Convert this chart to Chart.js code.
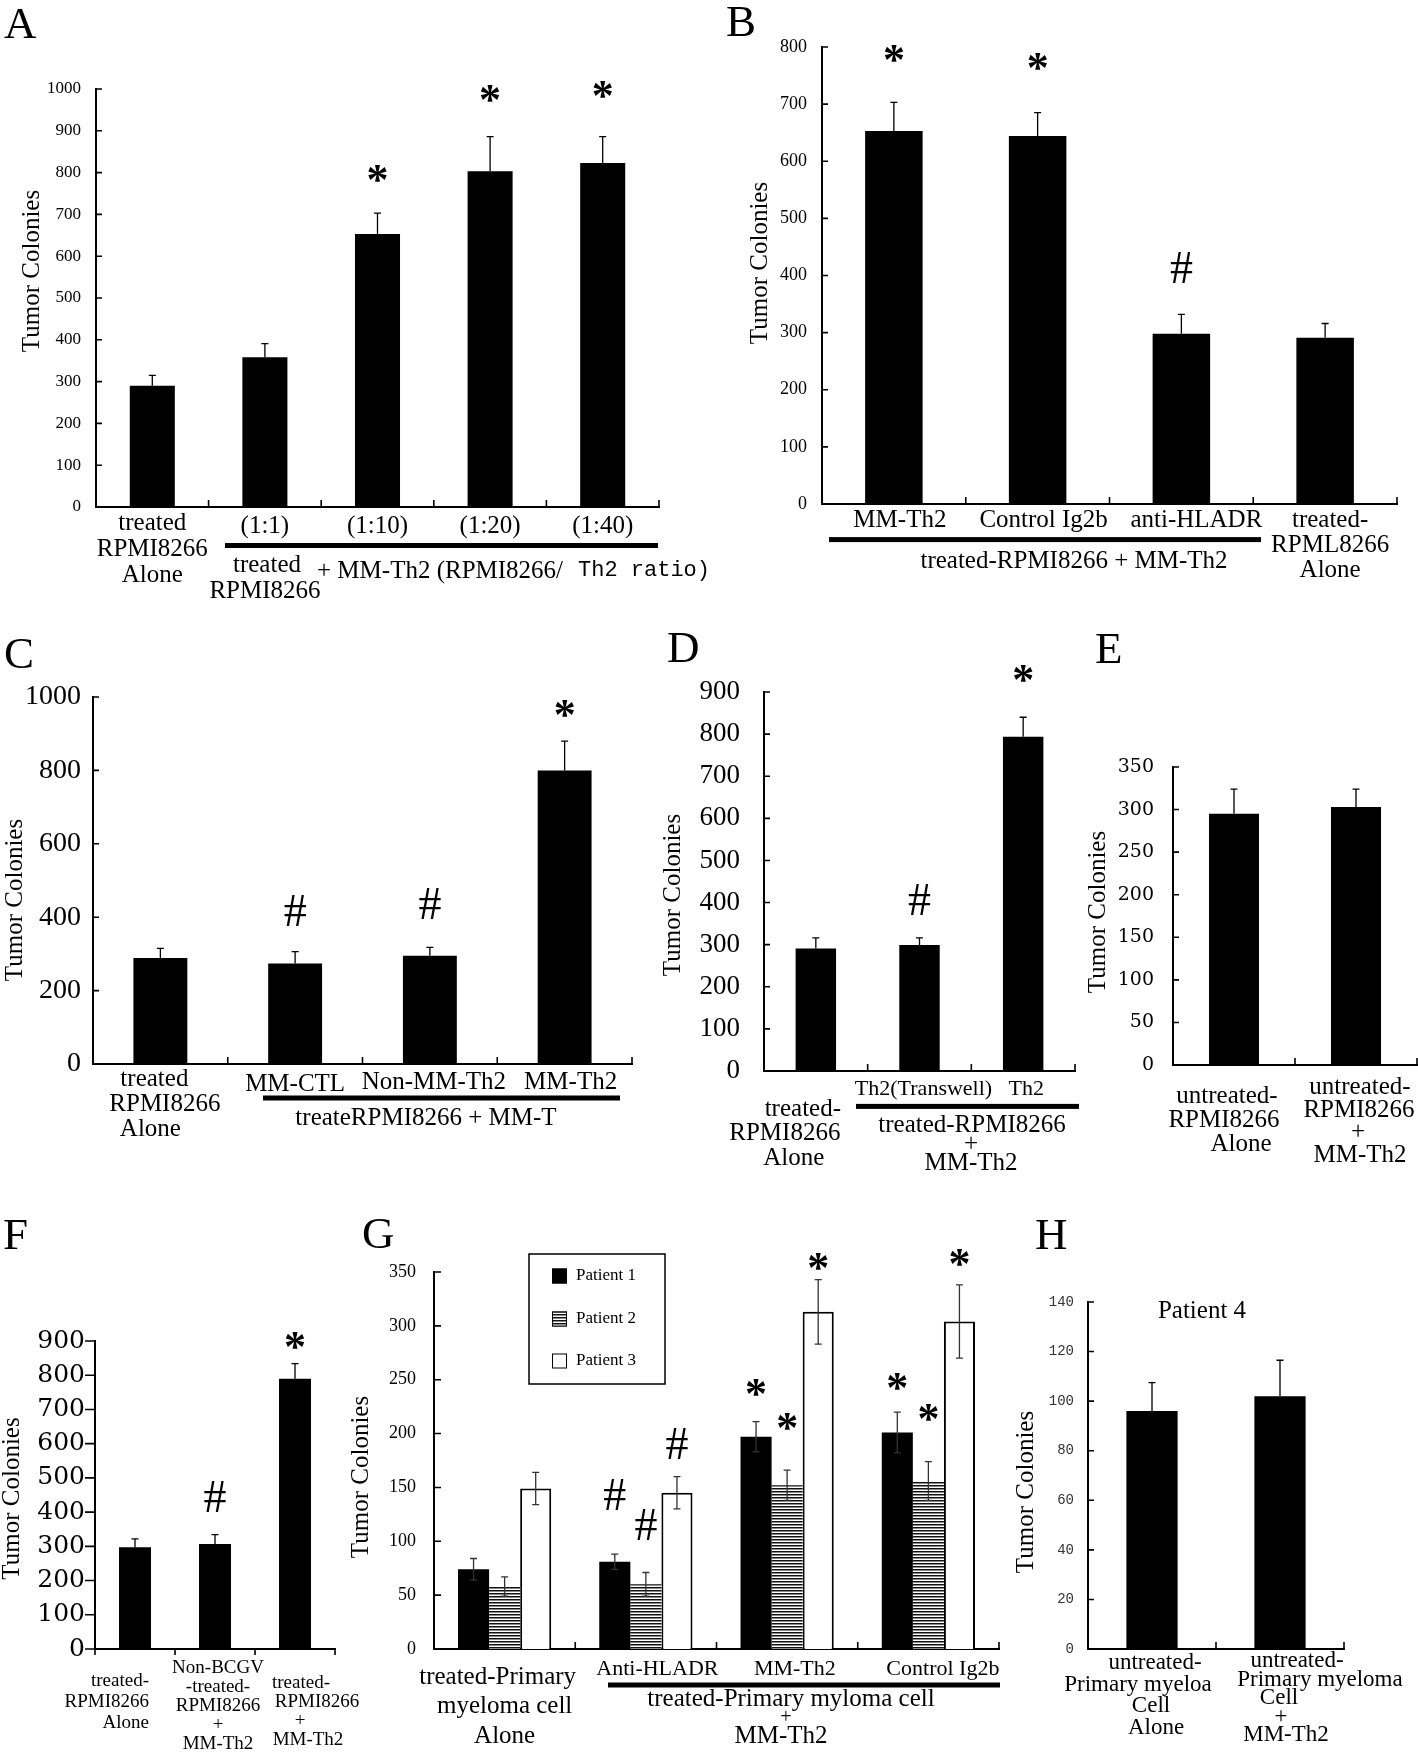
<!DOCTYPE html>
<html>
<head>
<meta charset="utf-8">
<script src="https://cdn.jsdelivr.net/npm/chart.js@4.4.1/dist/chart.umd.min.js"></script>
<style>
  body { margin: 0; background: #fff; }
  #page { position: relative; width: 1418px; height: 1753px; background: #fff; overflow: hidden; }
  #page canvas { position: absolute; }
</style>
</head>
<body>
<div id="page"></div>
<script>
// ---- data ----

// A
const aLabels = [['treated', 'RPMI8266', 'Alone'], ['(1:1)'], ['(1:10)'], ['(1:20)'], ['(1:40)']];
const aValues = [290, 358, 653, 803, 823];
const aErrors = [25, 33, 50, 83, 63];
const aMarks = ['', '', '*', '*', '*'];
const aMarkAt = [0, 0, 797, 990, 1000];

// B
const bLabels = [['MM-Th2'], ['Control Ig2b'], ['anti-HLADR'], ['treated-', 'RPML8266', 'Alone']];
const bValues = [653, 644, 298, 291];
const bErrors = [50, 41, 34, 25];
const bMarks = ['*', '*', '#', ''];
const bMarkAt = [789, 775, 414, 0];

// C
const cLabels = [['treated', 'RPMI8266', 'Alone'], ['MM-CTL'], ['Non-MM-Th2'], ['MM-Th2']];
const cValues = [289, 274, 295, 800];
const cErrors = [26, 32, 23, 80];
const cMarks = ['', '#', '#', '*'];
const cMarkAt = [0, 418, 438, 968];

// D
const dLabels = [['treated-', 'RPMI8266', 'Alone'], ['Th2(Transwell)'], ['Th2']];
const dValues = [291, 299, 794];
const dErrors = [25, 17, 46];
const dMarks = ['', '#', '*'];
const dMarkAt = [0, 407, 945];

// E
const eLabels = [['untreated-', 'RPMI8266', 'Alone'], ['untreated-', 'RPMI8266', '+', 'MM-Th2']];
const eValues = [295, 303];
const eErrors = [29, 21];

// F
const fLabels = [['treated-', 'RPMI8266', 'Alone'],
  ['Non-BCGV', '-treated-', 'RPMI8266', '+', 'MM-Th2'],
  ['treated-', 'RPMI8266', '+', 'MM-Th2']];
const fValues = [297, 307, 790];
const fErrors = [25, 27, 44];
const fMarks = ['', '#', '*'];
const fMarkAt = [0, 446, 901];

// G
const gLabels = [['treated-Primary', 'myeloma cell', 'Alone'], ['Anti-HLADR'], ['MM-Th2'], ['Control Ig2b']];
const gSeries = ['Patient 1', 'Patient 2', 'Patient 3'];
const gPatient1 = [74, 81, 197, 201];
const gPatient2 = [58, 60, 152, 156];
const gPatient3 = [149, 145, 313, 304];
const gErr1 = [10, 7, 14, 19];
const gErr2 = [9, 11, 14, 18];
const gErr3 = [15, 15, 30, 34];
const gMarks1 = ['', '#', '*', '*'];
const gMarks2 = ['', '#', '*', '*'];
const gMarks3 = ['', '#', '*', '*'];
const gMarkAt1 = [0, 143, 243, 248];
const gMarkAt2 = [0, 116, 211, 220];
const gMarkAt3 = [0, 191, 360, 363];

// H
const hLabels = [['untreated-', 'Primary myeloa', 'Cell', 'Alone'],
  ['untreated-', 'Primary myeloma', 'Cell', '+', 'MM-Th2']];
const hValues = [96, 102];
const hErrors = [11.5, 14.5];

const yTitle = 'Tumor Colonies';

// ---- look ----
const SERIF = '"Liberation Serif", "Times New Roman", serif';
const DSERIF = '"DejaVu Serif", serif';
const MONO = '"Liberation Mono", monospace';

function hatch() {
  const c = document.createElement('canvas');
  c.width = 4; c.height = 3;
  const x = c.getContext('2d');
  x.fillStyle = '#fff'; x.fillRect(0, 0, 4, 3);
  x.fillStyle = '#111'; x.fillRect(0, 0, 4, 1);
  x.fillStyle = '#888'; x.fillRect(0, 1, 4, 1);
  return x.createPattern(c, 'repeat');
}
const stripes = hatch();

// positions are page pixels; ldx = per-line nudges off the category centre
const panels = [
  {
    id: 'A', box: [0, 0, 720, 600], area: [96, 89, 659, 507], yMax: 1000, step: 100,
    tick: { family: SERIF, size: 17, pad: 15, dir: 1, len: 6 },
    cats: aLabels, barPct: 0.4, catPct: 1,
    sets: [{ values: aValues, errors: aErrors, marks: aMarks, markAt: aMarkAt, fill: '#000' }],
    lab: { size: [25, 25, 25, 25, 25], y0: [523, 526, 526, 526, 526], lh: 26, dx: [0, 0, 0, 0, 0] },
    title: [32, 271], letter: ['A', 4, 38],
    extras: [
      { rule: [225, 658, 545.5] },
      { text: 'treated', x: 267, y: 565, size: 25 },
      { text: 'RPMI8266', x: 265, y: 591, size: 25 },
      { text: '+ MM-Th2 (RPMI8266/', x: 317, y: 571, size: 25, align: 'left' },
      { text: 'Th2 ratio)', x: 578, y: 570, size: 22, align: 'left', family: MONO }
    ]
  },
  {
    id: 'B', box: [720, 0, 698, 600], area: [822, 47, 1397, 504], yMax: 800, step: 100,
    tick: { family: SERIF, size: 18, pad: 15, dir: 1, len: 6 },
    cats: bLabels, barPct: 0.4, catPct: 1,
    sets: [{ values: bValues, errors: bErrors, marks: bMarks, markAt: bMarkAt, fill: '#000' }],
    lab: { size: [25, 25, 25, 25], y0: [520, 520, 520, 520], lh: 25, dx: [6, 6, 15, 5] },
    title: [760, 263], letter: ['B', 726, 36],
    extras: [
      { rule: [829, 1261, 539.6] },
      { text: 'treated-RPMI8266 + MM-Th2', x: 1074, y: 561, size: 25 }
    ]
  },
  {
    id: 'C', box: [0, 600, 645, 570], area: [93, 697, 632, 1064], yMax: 1000, step: 200,
    tick: { family: SERIF, size: 28, pad: 12, dir: 1, len: 6 },
    cats: cLabels, barPct: 0.4, catPct: 1,
    sets: [{ values: cValues, errors: cErrors, marks: cMarks, markAt: cMarkAt, fill: '#000' }],
    lab: { size: [25, 25, 25, 25], y0: [1079, 1084, 1082, 1082], lh: 25, dx: [0, 0, 4, 6],
      ldx: [[-6, 4.5, -10]] },
    title: [15.5, 900], letter: ['C', 4, 668],
    extras: [
      { rule: [263, 620, 1098] },
      { text: 'treateRPMI8266 + MM-T', x: 426, y: 1118, size: 25 }
    ]
  },
  {
    id: 'D', box: [645, 600, 440, 570], area: [764, 692, 1075, 1071], yMax: 900, step: 100,
    tick: { family: SERIF, size: 27, pad: 24, dir: 1, len: 6 },
    cats: dLabels, barPct: 0.39, catPct: 1,
    sets: [{ values: dValues, errors: dErrors, marks: dMarks, markAt: dMarkAt, fill: '#000' }],
    lab: { size: [25, 22, 22], y0: [1109, 1089, 1089], lh: 24.5, dx: [0, 4, 3],
      ldx: [[-13, -31, -22]] },
    title: [673, 895], letter: ['D', 667, 662],
    extras: [
      { rule: [856, 1079, 1106.4] },
      { text: 'treated-RPMI8266', x: 972, y: 1125, size: 25 },
      { text: '+', x: 971, y: 1144.6, size: 25 },
      { text: 'MM-Th2', x: 971, y: 1163, size: 25 }
    ]
  },
  {
    id: 'E', box: [1085, 600, 333, 570], area: [1173, 767, 1417, 1065], yMax: 350, step: 50,
    tick: { family: DSERIF, size: 19, pad: 19, dir: 1, len: 6 },
    cats: eLabels, barPct: 0.41, catPct: 1,
    sets: [{ values: eValues, errors: eErrors, fill: '#000' }],
    lab: { size: [25, 25], y0: [1096.4, 1087.5], lh: [24, 22.6], dx: [0, 0],
      ldx: [[-7, -10, 7], [4, 3, 2, 4]] },
    title: [1098, 912], letter: ['E', 1095, 663],
    extras: []
  },
  {
    id: 'F', box: [0, 1170, 380, 583], area: [95, 1341, 335, 1649], yMax: 900, step: 100,
    tick: { family: DSERIF, size: 25, pad: 10, dir: -1, len: 10, xDown: true },
    cats: fLabels, barPct: 0.4, catPct: 1,
    sets: [{ values: fValues, errors: fErrors, marks: fMarks, markAt: fMarkAt, fill: '#000' }],
    lab: { size: [19, 19, 19], y0: [1681, 1668, 1683], lh: [21, 19, 19], dx: [14, 3, 0],
      align: ['right', 'center', 'center'], ldx: [null, null, [6, 22, 5, 13]] },
    title: [12.5, 1498.5], letter: ['F', 3, 1249],
    extras: []
  },
  {
    id: 'G', box: [345, 1170, 665, 583], area: [434, 1272, 999, 1649], yMax: 350, step: 50,
    tick: { family: SERIF, size: 18, pad: 18, dir: 1, len: 7 },
    cats: gLabels, barPct: 1, catPct: 0.66, twoSided: true, errColor: '#333',
    sets: [
      { name: gSeries[0], values: gPatient1, errors: gErr1, marks: gMarks1, markAt: gMarkAt1, fill: '#000' },
      { name: gSeries[1], values: gPatient2, errors: gErr2, marks: gMarks2, markAt: gMarkAt2, fill: stripes },
      { name: gSeries[2], values: gPatient3, errors: gErr3, marks: gMarks3, markAt: gMarkAt3, fill: '#fff', border: 2 }
    ],
    lab: { size: [25, 22, 22, 22], y0: [1677, 1669, 1669, 1669], lh: 29.6, dx: [0, 11.5, 7.7, 14.5],
      ldx: [[-7, 0, 0]] },
    title: [361.7, 1477], letter: ['G', 362, 1248],
    extras: [
      { rule: [608, 1000, 1685] },
      { text: 'treated-Primary myloma cell', x: 791, y: 1699, size: 25 },
      { text: '+', x: 786, y: 1718, size: 20 },
      { text: 'MM-Th2', x: 781, y: 1736, size: 25 },
      { legend: [529, 1254, 665, 1384], rows: [1276, 1319, 1361], swatchX: 552, textX: 576 }
    ]
  },
  {
    id: 'H', box: [1005, 1170, 413, 583], area: [1088, 1302, 1344, 1649], yMax: 140, step: 20,
    tick: { family: MONO, size: 14, pad: 14, dir: 1, len: 6, color: '#333' },
    cats: hLabels, barPct: 0.4, catPct: 1,
    sets: [{ values: hValues, errors: hErrors, fill: '#000' }],
    lab: { size: [23, 23], y0: [1663, 1661], lh: [21.7, 18.5], dx: [0, 0],
      ldx: [[3, -14, -1, 4], [17, 40, -1, 1, 6]] },
    title: [1026, 1492], letter: ['H', 1035, 1249],
    extras: [
      { text: 'Patient 4', x: 1202, y: 1311, size: 25 }
    ]
  }
];

function text(ctx, t, x, y, size, align, family) {
  ctx.font = size + 'px ' + (family || SERIF);
  ctx.textAlign = align || 'center';
  ctx.textBaseline = 'middle';
  ctx.fillStyle = '#000';
  ctx.fillText(t, x, y);
}

function mark(ctx, sym, x, y) {
  ctx.font = sym === '*' ? 'bold 44px ' + SERIF : '46px ' + SERIF;
  ctx.textAlign = 'center';
  ctx.textBaseline = 'alphabetic';
  ctx.fillStyle = '#000';
  const m = ctx.measureText(sym);
  ctx.fillText(sym, x, y + (m.actualBoundingBoxAscent - m.actualBoundingBoxDescent) / 2);
}

function panelPlugin(p) {
  const ox = p.box[0], oy = p.box[1];
  const pick = (v, i) => Array.isArray(v) ? v[i] : v;
  return {
    id: 'panel' + p.id,
    afterDraw(chart) {
      const ctx = chart.ctx, xs = chart.scales.x, ys = chart.scales.y, ca = chart.chartArea;
      ctx.save();

      // tick marks (inward in most panels, outward in F)
      ctx.strokeStyle = '#000';
      ctx.lineWidth = 1.6;
      ctx.beginPath();
      ys.ticks.forEach(t => {
        const y = ys.getPixelForValue(t.value);
        ctx.moveTo(ca.left, y);
        ctx.lineTo(ca.left + p.tick.dir * p.tick.len, y);
      });
      const n = p.cats.length;
      for (let i = p.tick.xDown ? 0 : 1; i <= n; i++) {
        const x = xs.getPixelForValue(i - 0.5);
        ctx.moveTo(x, ca.bottom);
        ctx.lineTo(x, p.tick.xDown ? ca.bottom + 6 : ca.bottom - 7);
      }
      if (p.tick.xDown) {
        ctx.moveTo(ca.left - 10, ca.bottom);
        ctx.lineTo(ca.left, ca.bottom);
      }
      ctx.stroke();

      // error bars and significance marks
      p.sets.forEach((s, di) => {
        chart.getDatasetMeta(di).data.forEach((bar, j) => {
          const top = ys.getPixelForValue(s.values[j] + s.errors[j]);
          const bot = ys.getPixelForValue(p.twoSided ? s.values[j] - s.errors[j] : s.values[j]);
          ctx.strokeStyle = p.errColor || '#000';
          ctx.lineWidth = 1.3;
          ctx.beginPath();
          ctx.moveTo(bar.x, top); ctx.lineTo(bar.x, bot);
          ctx.moveTo(bar.x - 3.5, top); ctx.lineTo(bar.x + 3.5, top);
          if (p.twoSided) { ctx.moveTo(bar.x - 3.5, bot); ctx.lineTo(bar.x + 3.5, bot); }
          ctx.stroke();
          if (s.marks && s.marks[j]) mark(ctx, s.marks[j], bar.x, ys.getPixelForValue(s.markAt[j]));
        });
      });

      // category labels
      p.cats.forEach((lines, i) => {
        const x = xs.getPixelForValue(i) + p.lab.dx[i];
        const align = p.lab.align ? p.lab.align[i] : 'center';
        const nudge = (p.lab.ldx && p.lab.ldx[i]) || [];
        lines.forEach((line, k) => {
          text(ctx, line, x + (nudge[k] || 0), p.lab.y0[i] + k * pick(p.lab.lh, i) - oy, p.lab.size[i], align);
        });
      });

      // axis title and panel letter
      ctx.save();
      ctx.translate(p.title[0] - ox, p.title[1] - oy);
      ctx.rotate(-Math.PI / 2);
      text(ctx, yTitle, 0, 0, 25);
      ctx.restore();
      ctx.font = '45px ' + SERIF;
      ctx.textAlign = 'left';
      ctx.textBaseline = 'alphabetic';
      ctx.fillStyle = '#000';
      ctx.fillText(p.letter[0], p.letter[1] - ox, p.letter[2] - oy);

      // group rules, group texts, legend
      p.extras.forEach(e => {
        if (e.rule) {
          ctx.fillStyle = '#000';
          ctx.fillRect(e.rule[0] - ox, e.rule[2] - 2.5 - oy, e.rule[1] - e.rule[0], 5);
        } else if (e.text) {
          text(ctx, e.text, e.x - ox, e.y - oy, e.size, e.align, e.family);
        } else if (e.legend) {
          const [x1, y1, x2, y2] = e.legend;
          ctx.strokeStyle = '#000';
          ctx.lineWidth = 1.5;
          ctx.strokeRect(x1 - ox, y1 - oy, x2 - x1, y2 - y1);
          p.sets.forEach((s, k) => {
            const sy = e.rows[k] - oy;
            ctx.fillStyle = s.fill;
            ctx.fillRect(e.swatchX - ox, sy - 7.5, 15, 15);
            ctx.strokeStyle = '#000';
            ctx.lineWidth = 1;
            ctx.strokeRect(e.swatchX - ox + 0.5, sy - 7, 14, 14);
            text(ctx, s.name, e.textX - ox, sy, 17, 'left');
          });
        }
      });
      ctx.restore();
    }
  };
}

const page = document.getElementById('page');
panels.forEach(p => {
  const [bx, by, bw, bh] = p.box;
  const [L, T, R, B] = p.area;
  const cv = document.createElement('canvas');
  cv.width = bw; cv.height = bh;
  cv.style.left = bx + 'px'; cv.style.top = by + 'px';
  cv.style.width = bw + 'px'; cv.style.height = bh + 'px';
  page.appendChild(cv);

  new Chart(cv.getContext('2d'), {
    type: 'bar',
    data: {
      labels: p.cats.map(l => l.join(' ')),
      datasets: p.sets.map(s => ({
        label: s.name || yTitle,
        data: s.values,
        backgroundColor: s.fill,
        borderColor: '#000',
        borderWidth: s.border || 0,
        barPercentage: p.barPct,
        categoryPercentage: p.catPct
      }))
    },
    options: {
      responsive: false,
      animation: false,
      devicePixelRatio: 1,
      layout: { padding: { left: 0, top: T - by, right: bx + bw - R, bottom: by + bh - B } },
      plugins: { legend: { display: false }, tooltip: { enabled: false } },
      scales: {
        x: {
          grid: { display: false, drawTicks: false },
          border: { color: '#000', width: 2 },
          ticks: { display: false },
          afterFit: s => { s.height = 0; }
        },
        y: {
          min: 0, max: p.yMax,
          grid: { display: false, drawTicks: false },
          border: { color: '#000', width: 2 },
          ticks: {
            stepSize: p.step,
            padding: p.tick.pad,
            color: p.tick.color || '#000',
            font: { family: p.tick.family, size: p.tick.size },
            callback: v => String(v)
          },
          afterFit: s => { s.width = L - bx; }
        }
      }
    },
    plugins: [panelPlugin(p)]
  });
});
</script>
</body>
</html>
